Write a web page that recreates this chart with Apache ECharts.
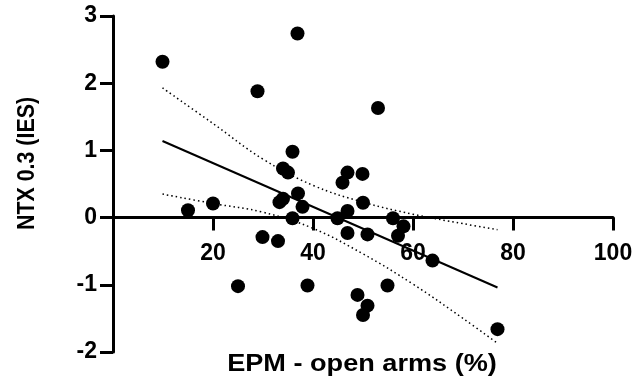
<!DOCTYPE html>
<html>
<head>
<meta charset="utf-8">
<script src="https://cdn.jsdelivr.net/npm/echarts@6/dist/echarts.min.js"></script>
<style>
html,body{margin:0;padding:0;background:#fff;}
#chart{width:635px;height:387px;}
</style>
</head>
<body>
<div id="chart"></div>
<script>
// Scatter data: EPM open arms (%) vs NTX 0.3 (IES)
const epmOpenArms = [9.9, 15, 20, 25, 28.9, 29.9, 33, 33.3, 34, 34, 35, 35.9, 35.9, 36.9, 37, 37.9, 38.9,
  44.9, 45.9, 46.9, 46.9, 46.9, 48.9, 49.9, 50, 50, 50.9, 50.9, 53, 54.9, 56, 57, 58.1, 63.9, 76.9];
const ntxIes = [2.32, 0.11, 0.21, -1.02, 1.88, -0.29, -0.35, 0.23, 0.28, 0.73, 0.67, 0.98, -0.01, 2.74, 0.36, 0.16, -1.01,
  -0.01, 0.52, 0.67, 0.10, -0.23, -1.15, 0.65, 0.22, -1.45, -0.25, -1.31, 1.63, -1.01, -0.01, -0.27, -0.13, -0.64, -1.66];

// Regression line
const fitX = [9.9, 76.9];
const fitY = [1.14, -1.04];

// Confidence band
const bandX = [9.9, 20, 30, 40, 50, 60, 70, 76.9];
const bandUpper = [1.93, 1.40, 0.87, 0.48, 0.23, 0.05, -0.09, -0.18];
const bandLower = [0.35, 0.21, 0.08, -0.16, -0.54, -0.99, -1.50, -1.87];

// Axis ticks
const xTicks = {min: 0, max: 100, interval: 20};
const yTicks = {min: -2, max: 3, interval: 1};

const font = '"Liberation Sans", Arial, Helvetica, sans-serif';
const zip = (a, b) => a.map((v, i) => [v, b[i]]);

const W = 635, H = 387;
const grid = {left: 113, right: 22, top: 16, bottom: 35};
const plotH = H - grid.top - grid.bottom;
// place the x axis where y = 0 (axis crosses at zero, labels follow it)
const zeroOffset = -plotH * (0 - yTicks.min) / (yTicks.max - yTicks.min);

const chart = echarts.init(document.getElementById('chart'), null, {renderer: 'canvas'});
chart.setOption({
  animation: false,
  grid: Object.assign({containLabel: false, outerBoundsMode: 'none'}, grid),
  xAxis: {
    type: 'value', min: xTicks.min, max: xTicks.max, interval: xTicks.interval,
    offset: zeroOffset,
    axisLine: {show: true, onZero: false, lineStyle: {color: '#000', width: 3}},
    axisTick: {show: true, inside: false, length: 13, lineStyle: {color: '#000', width: 3}},
    axisLabel: {margin: 25, color: '#000', fontFamily: font, fontWeight: 'bold', fontSize: 23,
      formatter: v => v === 0 ? '' : String(v)},
    splitLine: {show: false}
  },
  yAxis: {
    type: 'value', min: yTicks.min, max: yTicks.max, interval: yTicks.interval,
    axisLine: {show: true, onZero: false, lineStyle: {color: '#000', width: 3}},
    axisTick: {show: true, inside: false, length: 13, lineStyle: {color: '#000', width: 3}},
    axisLabel: {margin: 16, color: '#000', fontFamily: font, fontWeight: 'bold', fontSize: 23},
    splitLine: {show: false}
  },
  graphic: [
    {type: 'text', x: 362, y: 364, scaleX: 1.13, style: {text: 'EPM - open arms (%)', fill: '#000',
      font: 'bold 24px ' + font, textAlign: 'center', textVerticalAlign: 'middle'}},
    {type: 'text', x: 28, y: 163.5, rotation: Math.PI / 2, scaleX: 0.93, style: {text: 'NTX 0.3 (IES)', fill: '#000',
      font: 'bold 23px ' + font, textAlign: 'center', textVerticalAlign: 'middle'}}
  ],
  series: [
    {type: 'line', data: zip(bandX, bandUpper), smooth: 0.4, symbol: 'none',
      lineStyle: {color: '#000', width: 1.5, type: [1.5, 3]}, z: 2},
    {type: 'line', data: zip(bandX, bandLower), smooth: 0.4, symbol: 'none',
      lineStyle: {color: '#000', width: 1.5, type: [1.5, 3]}, z: 2},
    {type: 'line', data: zip(fitX, fitY), symbol: 'none',
      lineStyle: {color: '#000', width: 2}, z: 3},
    {type: 'scatter', data: zip(epmOpenArms, ntxIes), symbol: 'circle', symbolSize: 14,
      itemStyle: {color: '#000', opacity: 1}, z: 4}
  ]
});
</script>
</body>
</html>
